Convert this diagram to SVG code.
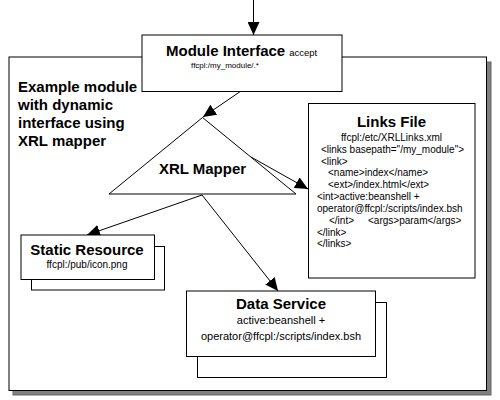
<svg xmlns="http://www.w3.org/2000/svg" width="500" height="400" viewBox="0 0 500 400">
<defs>
<style>
text{font-family:"Liberation Sans",Arial,sans-serif;fill:#000}
.t{font-weight:bold;font-size:15px}
.s{font-size:10px}
.box{fill:#fff;stroke:#000;stroke-width:1}
.edge{fill:none;stroke:#000;stroke-width:1}
</style>
<marker id="ah" markerWidth="13" markerHeight="12" refX="13" refY="6" orient="auto" markerUnits="userSpaceOnUse">
<path d="M0,0 L13,6 L0,12 z" fill="#000"/>
</marker>
</defs>
<rect width="500" height="400" fill="#fff"/>
<g id="example-module">
<rect x="13" y="62" width="478" height="333" fill="#808080" stroke="#666" stroke-width="1"/>
<rect x="9" y="57" width="477.5" height="333.5" class="box"/>
<text class="t" x="18" y="92">Example module</text>
<text class="t" x="18" y="110">with dynamic</text>
<text class="t" x="18" y="128">interface using</text>
<text class="t" x="18" y="146">XRL mapper</text>
</g>
<g id="connectors">
<line x1="253.5" y1="0" x2="253.5" y2="35" class="edge" marker-end="url(#ah)"/>
<line x1="241" y1="91" x2="203" y2="117" class="edge" marker-end="url(#ah)"/>
<line x1="251" y1="157" x2="308" y2="189" class="edge" marker-end="url(#ah)"/>
<line x1="202" y1="195" x2="87" y2="235" class="edge" marker-end="url(#ah)"/>
<line x1="202" y1="195" x2="278" y2="291" class="edge" marker-end="url(#ah)"/>
</g>
<g id="module-interface">
<rect x="142" y="35" width="200" height="56.5" class="box"/>
<text x="166" y="56"><tspan class="t">Module Interface</tspan><tspan font-size="9.5" dx="4">accept</tspan></text>
<text x="225" y="68" font-size="8" text-anchor="middle">ffcpl:/my_module/.*</text>
</g>
<g id="xrl-mapper">
<polygon points="202.5,117.5 109,194 296,194" class="box"/>
<text class="t" x="202.5" y="174" text-anchor="middle">XRL Mapper</text>
</g>
<g id="links-file">
<rect x="308.5" y="103.5" width="166.5" height="174.5" class="box"/>
<text class="t" x="391.5" y="127" text-anchor="middle">Links File</text>
<text class="s" x="391.5" y="141" text-anchor="middle">ffcpl:/etc/XRLLinks.xml</text>
<text class="s" x="321" y="153">&lt;links basepath="/my_module"&gt;</text>
<text class="s" x="321" y="165">&lt;link&gt;</text>
<text class="s" x="328" y="176">&lt;name&gt;index&lt;/name&gt;</text>
<text class="s" x="328" y="188">&lt;ext&gt;/index.html&lt;/ext&gt;</text>
<text class="s" x="317" y="200">&lt;int&gt;active:beanshell +</text>
<text class="s" x="317" y="212">operator@ffcpl:/scripts/index.bsh</text>
<text class="s" x="329" y="224">&lt;/int&gt;</text>
<text class="s" x="368" y="224">&lt;args&gt;param&lt;/args&gt;</text>
<text class="s" x="317" y="236">&lt;/link&gt;</text>
<text class="s" x="317" y="247">&lt;/links&gt;</text>
</g>
<g id="static-resource">
<rect x="31.5" y="246.5" width="133" height="43.5" class="box"/>
<rect x="21" y="235" width="133.5" height="44.5" class="box"/>
<text class="t" x="87" y="255" text-anchor="middle">Static Resource</text>
<text class="s" x="87" y="268" text-anchor="middle">ffcpl:/pub/icon.png</text>
</g>
<g id="data-service">
<rect x="197.5" y="302.5" width="189" height="75" class="box"/>
<rect x="186.5" y="291" width="189" height="65.5" class="box"/>
<text class="t" x="281" y="309" text-anchor="middle">Data Service</text>
<text x="281" y="324" font-size="11" text-anchor="middle">active:beanshell +</text>
<text x="281" y="340" font-size="11" text-anchor="middle">operator@ffcpl:/scripts/index.bsh</text>
</g>
</svg>
